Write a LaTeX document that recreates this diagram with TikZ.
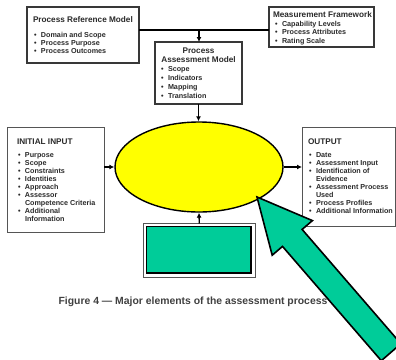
\documentclass[tikz,border=0pt]{standalone}
\usepackage{fontspec}
\setmainfont{Liberation Sans}
\usetikzlibrary{arrows.meta,shapes.geometric}

\definecolor{ink}{HTML}{2A2A2A}
\definecolor{capgray}{HTML}{404040}
\definecolor{boxline}{HTML}{383838}
\definecolor{softline}{HTML}{555555}
\definecolor{mint}{HTML}{00CC99}
\definecolor{hilite}{HTML}{FFFF00}

% bullet item and heading helpers
\newcommand\bl[1]{\makebox[7pt][l]{\textbullet}#1}
\newcommand\hd[1]{{\fontsize{8.2}{8}\selectfont\rule{0pt}{6pt}#1}}

\begin{document}
\begin{tikzpicture}[x=1pt,y=-1pt,
  box/.style={draw=boxline, line width=1.1pt, fill=white, anchor=north west,
              inner sep=0pt, outer sep=0pt},
  lightbox/.style={box, draw=softline, line width=0.9pt},
  txt/.style={anchor=north west, inner sep=0pt, outer sep=0pt, align=left,
              text=ink, font=\fontsize{7.2}{8}\selectfont\bfseries},
  wire/.style={draw=black, line width=1.3pt},
  link/.style={wire, -{Latex[length=5pt,width=5pt]}}]

\useasboundingbox (0,0) rectangle (396,359);

% ---- upper boxes ----
\node[box, minimum width=112pt, minimum height=56pt] (prm) at (27,7) {};
\node[txt] (prmtxt) at (33,16)
  {\hd{Process Reference Model}\\[7.5pt]
   \hspace*{1pt}\bl{Domain and Scope}\\
   \hspace*{1pt}\bl{Process Purpose}\\
   \hspace*{1pt}\bl{Process Outcomes}};

\node[box, minimum width=105pt, minimum height=40pt] (mf) at (269,7) {};
\node[txt, font=\fontsize{7.2}{8.5}\selectfont\bfseries] (mftxt) at (273,11.9)
  {\hd{Measurement Framework}\\
   \hspace*{2pt}\bl{Capability Levels}\\
   \hspace*{2pt}\bl{Process Attributes}\\
   \hspace*{2pt}\bl{Rating Scale}};

\node[box, minimum width=87pt, minimum height=62pt] (pam) at (155,42) {};
\node[txt, align=center, anchor=north, font=\fontsize{8.2}{9}\selectfont\bfseries]
  (pamttl) at (198.5,47) {\rule{0pt}{6pt}Process\\ Assessment Model};
\node[txt, font=\fontsize{7.2}{9}\selectfont\bfseries] (pamlst) at (160,65.5)
  {\hspace*{1pt}\bl{\rule{0pt}{6pt}Scope}\\
   \hspace*{1pt}\bl{Indicators}\\
   \hspace*{1pt}\bl{Mapping}\\
   \hspace*{1pt}\bl{Translation}};

% ---- side boxes ----
\node[lightbox, minimum width=97pt, minimum height=105pt] (init) at (7,127) {};
\node[txt] (inittxt) at (17,138)
  {\hd{INITIAL INPUT}\\[5.5pt]
   \hspace*{1pt}\bl{Purpose}\\
   \hspace*{1pt}\bl{Scope}\\
   \hspace*{1pt}\bl{Constraints}\\
   \hspace*{1pt}\bl{Identities}\\
   \hspace*{1pt}\bl{Approach}\\
   \hspace*{1pt}\bl{Assessor}\\
   \hspace*{8pt}Competence Criteria\\
   \hspace*{1pt}\bl{Additional}\\
   \hspace*{8pt}Information};

\node[lightbox, minimum width=93.5pt, minimum height=99pt] (out) at (302,127) {};
\node[txt] (outtxt) at (308,138)
  {\hd{OUTPUT}\\[5.5pt]
   \hspace*{1pt}\bl{Date}\\
   \hspace*{1pt}\bl{Assessment Input}\\
   \hspace*{1pt}\bl{Identification of}\\
   \hspace*{8pt}Evidence\\
   \hspace*{1pt}\bl{Assessment Process}\\
   \hspace*{8pt}Used\\
   \hspace*{1pt}\bl{Process Profiles}\\
   \hspace*{1pt}\bl{Additional Information}};

% ---- central process ----
\node[ellipse, draw=black, line width=1.4pt, fill=hilite, inner sep=0pt,
      minimum width=168pt, minimum height=90pt] (proc) at (199,167) {};

% ---- green block below ----
\node[draw=softline, line width=0.8pt, anchor=north west, inner sep=0pt, outer sep=0pt,
      minimum width=111.5pt, minimum height=53.5pt] (grnframe) at (143.5,223.5) {};
\node[draw=black, line width=1.6pt, fill=mint, anchor=north west, inner sep=0pt,
      outer sep=0pt, minimum width=104.5pt, minimum height=46.5pt] (grn) at (146.5,226.5) {};

% ---- connectors ----
\coordinate (j) at (199,30);
\draw[wire] (j -| prm.east) -- (j);
\draw[wire] (j -| mf.west) -- (j);
\draw[link] (j) -- (j |- pam.north);
\draw[link] (pam.south) -- (pam.south |- proc.north);
\draw[link] (proc.west -| init.east) -- (proc.west);
\draw[link] (proc.east) -- (proc.east -| out.west);
\draw[link] (grnframe.north) -- (proc.south);

% ---- caption ----
\node[anchor=base, inner sep=0pt, text=capgray,
      font=\fontsize{10.4}{12}\selectfont\bfseries] (cap) at (193,304.7)
  {Figure 4 — Major elements of the assessment process};

% ---- large pointer arrow ----
\begin{scope}
  \clip (0,0) rectangle (396,359);
  \draw[fill=mint, line width=1.6pt, line join=miter]
    (257,197) -- (312.4,220.6) -- (302.1,229.4) -- (400.9,343.7)
    -- (381.3,360.7) -- (282.5,246.4) -- (272.2,255.2) -- cycle;
\end{scope}
\end{tikzpicture}
\end{document}
